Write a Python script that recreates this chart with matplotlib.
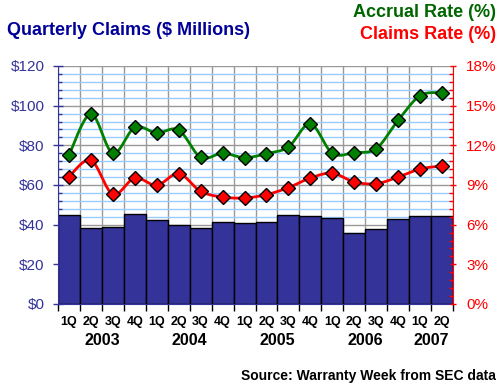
import numpy as np
import matplotlib
matplotlib.use("Agg")
import matplotlib.pyplot as plt
from matplotlib.ticker import FixedLocator, NullFormatter, FixedFormatter

plt.rcParams['font.family'] = ['Liberation Sans', 'DejaVu Sans']

quarters = ["1Q", "2Q", "3Q", "4Q", "1Q", "2Q", "3Q", "4Q", "1Q", "2Q", "3Q", "4Q",
            "1Q", "2Q", "3Q", "4Q", "1Q", "2Q"]
years = ["2003", "2004", "2005", "2006", "2007"]
year_sizes = [4, 4, 4, 4, 2]
claims = [44.7, 38.2, 38.7, 45.2, 42.2, 39.7, 38.2, 41.2, 40.7, 41.2,
          44.7, 44.2, 43.2, 35.6, 37.7, 42.7, 44.2, 44.2]
accrual_rate = [11.25, 14.37, 11.4, 13.36, 12.93, 13.16, 11.09, 11.4, 11.07, 11.37,
                11.88, 13.62, 11.4, 11.45, 11.75, 13.89, 15.76, 15.98]
claims_rate = [9.63, 10.87, 8.3, 9.53, 8.98, 9.86, 8.52, 8.09, 8.02, 8.27,
               8.8, 9.53, 9.89, 9.23, 9.1, 9.6, 10.21, 10.44]
left_ticks = ["$0", "$20", "$40", "$60", "$80", "$100", "$120"]
right_ticks = ["0%", "3%", "6%", "9%", "12%", "15%", "18%"]

NAVY = "#000099"
BAR = "#333399"
GREEN = "#008000"
RED = "#FF0000"


def smooth(x, y, n=20):
    x = np.asarray(x, float)
    y = np.asarray(y, float)
    xp = np.concatenate([[x[0]], x, [x[-1]]])
    yp = np.concatenate([[y[0]], y, [y[-1]]])
    xs, ys = [], []
    t = np.linspace(0, 1, n)
    for i in range(len(x) - 1):
        p0x, p0y = x[i], y[i]
        p3x, p3y = x[i + 1], y[i + 1]
        c1x = p0x + (xp[i + 2] - xp[i]) / 6
        c1y = p0y + (yp[i + 2] - yp[i]) / 6
        c2x = p3x - (xp[i + 3] - xp[i + 1]) / 6
        c2y = p3y - (yp[i + 3] - yp[i + 1]) / 6
        bx = (1 - t) ** 3 * p0x + 3 * (1 - t) ** 2 * t * c1x + 3 * (1 - t) * t ** 2 * c2x + t ** 3 * p3x
        by = (1 - t) ** 3 * p0y + 3 * (1 - t) ** 2 * t * c1y + 3 * (1 - t) * t ** 2 * c2y + t ** 3 * p3y
        xs.append(bx)
        ys.append(by)
    return np.concatenate(xs), np.concatenate(ys)


fig = plt.figure(figsize=(5.0, 3.87), dpi=100)
ax = fig.add_axes([0.116, 0.2145, 0.790, 0.615])
n = len(claims)
x = np.arange(n) + 0.5

ax.bar(x, claims, width=1.0, color=BAR, edgecolor="black", linewidth=1.0, zorder=2)
ax.set_xlim(0, n)
ax.set_ylim(0, 120)
ax.set_axisbelow(True)

left_vals = np.arange(len(left_ticks)) * 20
ax.yaxis.set_major_locator(FixedLocator(left_vals))
ax.yaxis.set_major_formatter(FixedFormatter(left_ticks))
ax.yaxis.set_minor_locator(FixedLocator(np.arange(0, 121, 4)))
ax.tick_params(axis="y", which="major", labelsize=11, labelcolor=BAR)
ax.grid(axis="y", which="minor", color="#99CCFF", linewidth=1.0, zorder=0)
ax.grid(axis="y", which="major", color="#999999", linewidth=1.0, zorder=0)

ax.xaxis.set_major_locator(FixedLocator(np.arange(n + 1)))
ax.xaxis.set_major_formatter(NullFormatter())
ax.xaxis.set_minor_locator(FixedLocator(x))
ax.xaxis.set_minor_formatter(FixedFormatter(quarters))
ax.tick_params(axis="x", which="minor", length=0, pad=9, labelsize=9)
for lab in ax.get_xticklabels(minor=True):
    lab.set_fontweight("bold")
ax.tick_params(axis="x", which="major", length=5, width=1, color="black", direction="out")
ax.grid(axis="x", which="major", color="#999999", linewidth=1.0, zorder=0)

ax.tick_params(axis="y", which="major", length=7, width=1, color=BAR, direction="inout", pad=6)
ax.tick_params(axis="y", which="minor", length=3, width=1, color=BAR, direction="in")
for s in ["top", "right"]:
    ax.spines[s].set_visible(False)
ax.spines["left"].set_color(BAR)
ax.spines["bottom"].set_color(BAR)

ax2 = ax.twinx()
ax2.set_ylim(0, 18)
right_vals = np.arange(len(right_ticks)) * 3
ax2.yaxis.set_major_locator(FixedLocator(right_vals))
ax2.yaxis.set_major_formatter(FixedFormatter(right_ticks))
ax2.yaxis.set_minor_locator(FixedLocator(np.arange(0, 18.01, 0.6)))
ax2.tick_params(axis="y", which="major", labelsize=11, labelcolor=RED)
ax2.tick_params(axis="y", which="major", length=5, width=1, color=RED, direction="inout", pad=7)
ax2.tick_params(axis="y", which="minor", length=3, width=1, color=RED, direction="in")
for s in ["top", "left", "bottom"]:
    ax2.spines[s].set_visible(False)
ax2.spines["right"].set_color(RED)

sx, sy = smooth(x, accrual_rate)
ax2.plot(sx, sy, color=GREEN, linewidth=2, zorder=3)
ax2.plot(x, accrual_rate, linestyle="none", marker="D", markersize=7,
         markerfacecolor="#007F00", markeredgecolor="black", markeredgewidth=1, zorder=4)
sx, sy = smooth(x, claims_rate)
ax2.plot(sx, sy, color=RED, linewidth=2, zorder=3)
ax2.plot(x, claims_rate, linestyle="none", marker="D", markersize=7,
         markerfacecolor=RED, markeredgecolor="black", markeredgewidth=1, zorder=4)

start = 0
for yr, sz in zip(years, year_sizes):
    cx = start + sz / 2
    ax.text(cx, -0.155, yr, transform=ax.get_xaxis_transform(), ha="center", va="center",
            fontsize=11.5, fontweight="bold")
    start += sz

fig.text(7 / 500, 1 - 30.7 / 387, "Quarterly Claims ($ Millions)", ha="left", va="center",
         fontsize=13, fontweight="bold", color=NAVY)
fig.text(496 / 500, 1 - 12.3 / 387, "Accrual Rate (%)", ha="right", va="center",
         fontsize=13, fontweight="bold", color="#006600")
fig.text(496 / 500, 1 - 34.5 / 387, "Claims Rate (%)", ha="right", va="center",
         fontsize=13, fontweight="bold", color=RED)
fig.text(496 / 500, 1 - 376 / 387, "Source: Warranty Week from SEC data", ha="right", va="center",
         fontsize=10, fontweight="bold", color="black")

fig.savefig("out.png", dpi=100)
